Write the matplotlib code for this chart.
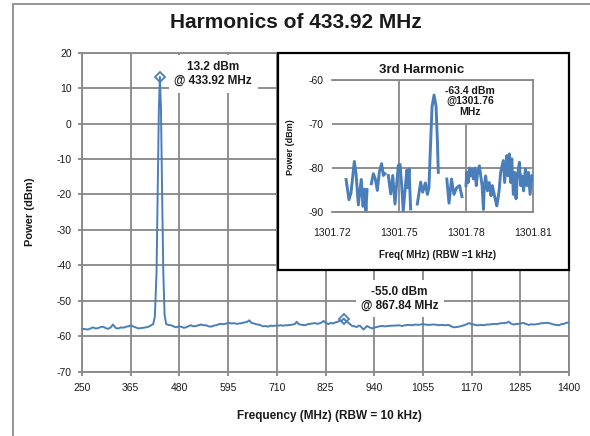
import numpy as np
import matplotlib
matplotlib.use("Agg")
import matplotlib.pyplot as plt
from matplotlib.patches import Rectangle

plt.rcParams['font.family'] = ['Liberation Sans', 'DejaVu Sans']
plt.rcParams['axes.unicode_minus'] = False

# ---------------- data ----------------
title = "Harmonics of 433.92 MHz"
x_ticks = [250, 365, 480, 595, 710, 825, 940, 1055, 1170, 1285, 1400]
y_ticks = [20, 10, 0, -10, -20, -30, -40, -50, -60, -70]

freq = [250, 257, 264, 270, 276, 282, 288, 294, 300, 306, 311, 317, 323, 330, 336, 342, 348, 354,
        360, 366, 372, 377, 383, 389, 395, 401, 407, 413, 418, 422, 426, 429, 431.5, 433.92, 436.5,
        439, 442, 445, 449, 454, 460, 466, 472, 478, 484, 490, 496, 502, 507, 513, 519, 525, 531,
        537, 543, 549, 555, 561, 567, 573, 579, 585, 591, 597, 603, 609, 615, 621, 627, 633, 639,
        645, 650, 656, 661, 666, 672, 677, 683, 689, 695, 701, 707, 713, 719, 725, 731, 736, 742,
        748, 753, 757, 761, 765, 771, 777, 783, 788, 794, 800, 806, 812, 816, 820, 826, 832, 838,
        843, 848, 853, 858, 862, 867.84, 872, 876, 881, 887, 893, 899, 903, 907, 911, 915, 919, 923,
        929, 935, 941, 946, 952, 958, 966, 974, 982, 990, 998, 1006, 1013, 1021, 1029, 1037, 1045,
        1053, 1061, 1069, 1077, 1084, 1092, 1100, 1108, 1116, 1122, 1128, 1134, 1140, 1146, 1152,
        1158, 1164, 1170, 1176, 1182, 1187, 1193, 1199, 1205, 1211, 1217, 1223, 1229, 1235, 1241,
        1246, 1252, 1258, 1264, 1270, 1276, 1282, 1288, 1294, 1300, 1305, 1311, 1317, 1323, 1329,
        1335, 1341, 1347, 1353, 1359, 1364, 1370, 1376, 1382, 1388, 1394, 1400]
power = [-57.9, -58.0, -58.1, -57.8, -57.5, -57.8, -57.7, -57.4, -57.3, -57.7, -57.9, -57.6, -56.7,
         -57.7, -57.8, -57.5, -57.6, -57.3, -57.2, -56.9, -57.3, -57.5, -57.8, -57.7, -57.6, -57.5,
         -57.3, -56.9, -56.6, -54.5, -42, -18, 4, 13.2, 4, -18, -42, -54, -56.6, -56.8, -56.9,
         -57.2, -57.5, -57.2, -57.3, -57.6, -57.5, -57.1, -56.9, -57.2, -57.1, -56.9, -56.7, -56.9,
         -56.9, -57.2, -57.3, -57.0, -56.9, -56.6, -56.5, -56.6, -56.4, -56.2, -56.4, -56.3, -56.5,
         -56.4, -56.3, -56.1, -56.0, -55.5, -56.2, -56.4, -56.6, -56.7, -56.9, -57.2, -57.1, -57.3,
         -57.0, -57.1, -57.0, -57.0, -56.9, -57.0, -56.9, -56.9, -56.8, -56.7, -56.5, -55.9, -56.5,
         -56.7, -56.8, -56.9, -56.6, -56.5, -56.4, -56.3, -56.5, -56.3, -56.1, -55.7, -56.2, -56.6,
         -56.2, -56.4, -56.1, -56.0, -55.6, -55.8, -55.0, -55.5, -55.9, -56.4, -57.0, -57.2, -57.4,
         -57.0, -57.1, -57.6, -58.1, -57.6, -57.1, -57.5, -57.8, -57.5, -57.4, -57.2, -57.1, -57.2,
         -57.1, -57.0, -57.0, -56.9, -57.1, -56.9, -56.8, -56.9, -56.7, -56.8, -56.6, -56.7, -56.8,
         -56.7, -56.7, -56.9, -56.8, -56.9, -56.8, -57.2, -57.5, -57.4, -57.3, -57.1, -56.9, -56.6,
         -56.3, -56.6, -56.7, -56.9, -56.9, -56.8, -56.9, -56.7, -56.7, -56.6, -56.5, -56.6, -56.4,
         -56.3, -56.3, -56.2, -55.9, -56.5, -56.7, -56.5, -56.5, -56.3, -56.3, -56.6, -56.8, -56.6,
         -56.7, -56.6, -56.5, -56.3, -56.3, -56.2, -56.3, -56.5, -56.7, -56.8, -56.9, -56.6, -56.5,
         -56.2, -56.1]
assert len(freq) == len(power), (len(freq), len(power))

marker_freq = [433.92, 867.84]
marker_power = [13.2, -55.0]
marker_labels = ["13.2 dBm\n@ 433.92 MHz", "-55.0 dBm\n@ 867.84 MHz"]

# inset (3rd harmonic) data, NaN = gap in trace
h3_freq = [1301.7263, 1301.7276, 1301.7285, 1301.7300, 1301.7308, 1301.7318, 1301.7331, 1301.7339,
           1301.7346, 1301.7352, 1301.7357, np.nan,
           1301.7376, 1301.7385, 1301.7394, 1301.7403, 1301.7412, 1301.7422, 1301.7430, 1301.7437, np.nan,
           1301.7452, 1301.7463, 1301.7472, 1301.7482, 1301.7497, 1301.7505, 1301.7512, 1301.7519,
           1301.7528, 1301.7535, 1301.7540, 1301.7545, 1301.7552, np.nan,
           1301.7582, 1301.7597, 1301.7606, 1301.7618, 1301.7627, 1301.7634, 1301.7641, 1301.7648,
           1301.7657, 1301.7666, 1301.7672, 1301.7676, np.nan,
           1301.7714, 1301.7724, 1301.7735, 1301.7746, 1301.7758, 1301.7771, 1301.7782, np.nan,
           1301.7800, 1301.7803, 1301.7810, 1301.7815, 1301.7821, 1301.7827, 1301.7833, 1301.7840,
           1301.7846, 1301.7852, 1301.7860, 1301.7866, 1301.7872, 1301.7878, 1301.7882, 1301.7888,
           1301.7896, 1301.7904, 1301.7912, 1301.7918, 1301.7931, 1301.7938, 1301.7943, 1301.7949,
           1301.7955, 1301.7967, 1301.7973, 1301.7982, 1301.7988, 1301.7994, 1301.8000, 1301.8005,
           1301.8012, 1301.8018, 1301.8024, 1301.8030, 1301.8039, 1301.8045, 1301.8051, 1301.8058,
           1301.8066, 1301.8072, 1301.8079, 1301.8087, 1301.8094, 1301.8100]
h3_power = [-82.6, -87.2, -85.7, -78.5, -81.5, -88.4, -82.6, -88.7, -84.8, -89.7, -84.9, np.nan,
            -83.6, -81.3, -82.5, -85.1, -80.9, -79.0, -81.7, -81.3, np.nan,
            -81.7, -85.9, -81.7, -88.2, -79.4, -79.2, -84.0, -89.7, -84.5, -80.5, -84.5, -80.2, -89.3, np.nan,
            -88.2, -83.2, -85.5, -83.4, -86.0, -84.5, -75.0, -66.0, -63.4, -66.0, -74.0, -81.0, np.nan,
            -82.5, -88.0, -82.5, -86.0, -84.5, -84.0, -86.5, np.nan,
            -84.0, -81.0, -83.3, -80.0, -81.8, -80.2, -82.5, -80.0,
            -84.0, -81.0, -79.5, -81.8, -84.0, -89.4, -84.0, -81.8,
            -85.2, -83.3, -86.3, -84.0, -87.1, -88.6, -87.1, -84.8,
            -81.0, -78.3, -83.3, -77.2, -81.8, -76.8, -83.3, -77.9,
            -86.0, -81.0, -87.0, -81.8, -78.7, -84.0, -81.8, -85.2,
            -80.2, -84.0, -81.0, -86.0, -81.7, -82.5]
assert len(h3_freq) == len(h3_power), (len(h3_freq), len(h3_power))
h3_xticks = [1301.72, 1301.75, 1301.78, 1301.81]
h3_yticks = [-60, -70, -80, -90]
h3_peak_label = "-63.4 dBm\n@1301.76\nMHz"

# ---------------- style ----------------
W, H = 590, 436
LINE = '#4a7ebb'
GRID = '#878787'
TXT = '#1a1a1a'

def fx(px):
    return px / W

def fy(py):
    return 1 - py / H

fig = plt.figure(figsize=(W / 100, H / 100), dpi=100)

# outer chart-area border (only top and left are inside the image)
fig.patches.append(Rectangle((fx(13), -0.2), 1.2, fy(4) + 0.2, transform=fig.transFigure,
                             fill=False, edgecolor='#8c8c8c', lw=1.3, zorder=0))

# ---------------- main axes ----------------
L, R, T, B = 82, 569, 52.7, 371.7
ax = fig.add_axes([fx(L), fy(B), fx(R - L), (B - T) / H])
ax.set_zorder(1)
ax.plot(freq, power, color=LINE, lw=1.4, zorder=3)
ax.plot(marker_freq, marker_power, linestyle='none', marker='D', ms=5.5, mfc='none',
        mec=LINE, mew=1.3, zorder=4, clip_on=False)
ax.set_xlim(250, 1400)
ax.set_ylim(-70, 20)
ax.set_xticks(x_ticks)
ax.set_yticks(y_ticks)
ax.grid(True, color=GRID, lw=1.3, zorder=0)
ax.set_axisbelow(True)
for s in ax.spines.values():
    s.set_color(GRID)
    s.set_linewidth(1.3)
ax.tick_params(axis='both', colors=GRID, labelcolor=TXT, labelsize=7.5, length=3, width=1.3)
ax.tick_params(axis='y', pad=4.5)
ax.tick_params(axis='x', pad=5)

ax.text(560, 14.0, marker_labels[0], ha='center', va='center', fontsize=8.5, fontweight='bold',
        color=TXT, zorder=5, bbox=dict(boxstyle='square,pad=0.5', fc='white', ec='none'))
ax.text(1000, -49.4, marker_labels[1], ha='center', va='center', fontsize=8.5, fontweight='bold',
        color=TXT, zorder=5, bbox=dict(boxstyle='square,pad=0.45', fc='white', ec='none'))

fig.text(0.502, fy(22), title, ha='center', va='center', fontsize=15, fontweight='bold', color=TXT)
fig.text(fx(30), fy(212), "Power (dBm)", ha='center', va='center', rotation=90, fontsize=8,
         fontweight='bold', color=TXT)
fig.text(fx(329), fy(416), "Frequency (MHz) (RBW = 10 kHz)", ha='center', va='center',
         fontsize=8.5, fontweight='bold', color=TXT)

# ---------------- inset ----------------
box = Rectangle((fx(278.3), fy(270)), fx(569 - 278.3), (270 - 53.3) / H, transform=fig.transFigure,
                facecolor='white', edgecolor='black', lw=1.6, zorder=2)
fig.patches.append(box)

iL, iR, iT, iB = 332, 533, 80, 212
ax2 = fig.add_axes([fx(iL), fy(iB), fx(iR - iL), (iB - iT) / H])
ax2.set_zorder(3)
ax2.patch.set_alpha(0)
ax2.plot(h3_freq, h3_power, color=LINE, lw=2.1, zorder=3)
ax2.set_xlim(1301.72, 1301.81)
ax2.set_ylim(-90, -60)
ax2.set_xticks(h3_xticks)
ax2.set_xticklabels([f"{v:.2f}" for v in h3_xticks])
ax2.set_yticks(h3_yticks)
ax2.grid(True, axis='y', color=GRID, lw=1.3, zorder=0)
# vertical gridlines (the one at 1301.78 is hidden above -70 by the label box)
ax2.vlines([h3_xticks[1]], -90, -60, color=GRID, lw=1.3, zorder=0)
ax2.vlines([h3_xticks[2]], -90, -70, color=GRID, lw=1.3, zorder=0)
ax2.set_axisbelow(True)
for k, s in ax2.spines.items():
    s.set_color(GRID)
    s.set_linewidth(1.3)
ax2.spines['left'].set_visible(False)
ax2.tick_params(axis='both', length=0, labelcolor=TXT, labelsize=7.5)
ax2.tick_params(axis='y', pad=6.3)
ax2.tick_params(axis='x', pad=11.5)
ax2.text(1301.7818, -64.8, h3_peak_label, ha='center', va='center', fontsize=7.5,
         fontweight='bold', color=TXT, linespacing=1.05, zorder=5,
         bbox=dict(boxstyle='square,pad=0.3', fc='white', ec='none'))

fig.text(fx(421.7), fy(70), "3rd Harmonic", ha='center', va='center', fontsize=9.5,
         fontweight='bold', color=TXT, zorder=4)
fig.text(fx(438), fy(255), "Freq( MHz) (RBW =1 kHz)", ha='center', va='center', fontsize=7,
         fontweight='bold', color=TXT, zorder=4)
fig.text(fx(290.7), fy(147), "Power (dBm)", ha='center', va='center', rotation=90, fontsize=6.5,
         fontweight='bold', color=TXT, zorder=4)

fig.savefig("out.png", dpi=100)
